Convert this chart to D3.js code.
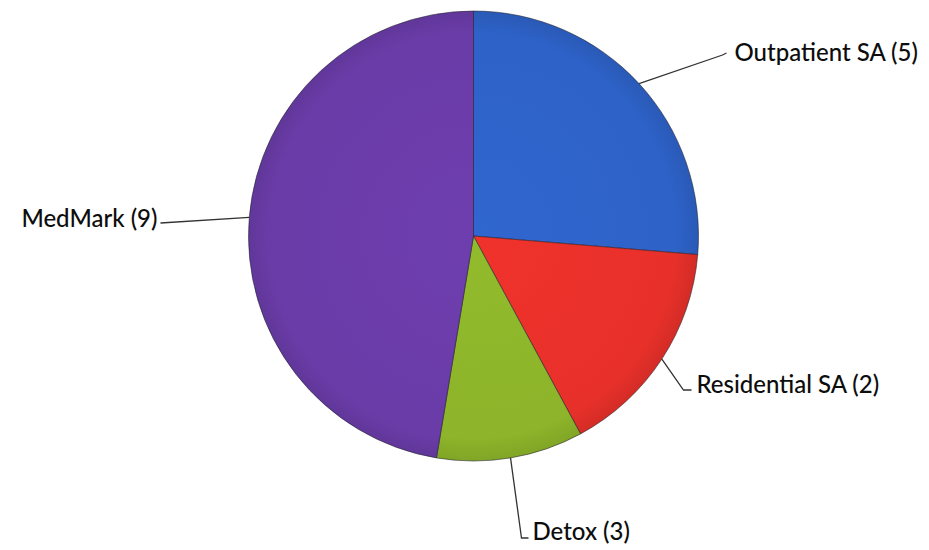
<!DOCTYPE html>
<html>
<head>
<meta charset="utf-8">
<script src="https://cdn.jsdelivr.net/npm/d3@7"></script>
<style>
  html, body { margin: 0; padding: 0; background: #ffffff; }
  svg { display: block; }
  text { font-family: Lato, "Open Sans", sans-serif; fill: #0d0d0d; }
</style>
</head>
<body>
<svg id="chart" width="929" height="550"></svg>
<script>
// ---- data ----
const categories = ["Outpatient SA", "Residential SA", "Detox", "MedMark"];
const labelCounts = [5, 2, 3, 9];          // numbers printed in the labels
const sliceValues = [5, 3, 2, 9];          // slice sizes as drawn in the picture
const colors = ["#2E62C8", "#E8302A", "#8DB42A", "#6A3CA8"];

// ---- layout ----
const svg = d3.select("#chart");
const cx = 473.5, cy = 236, R = 225;
const g = svg.append("g").attr("transform", `translate(${cx},${cy})`);

const defs = svg.append("defs");
colors.forEach((c, i) => {
  const grad = defs.append("radialGradient")
    .attr("id", "grad" + i)
    .attr("gradientUnits", "userSpaceOnUse")
    .attr("cx", 0).attr("cy", 0).attr("r", R);
  grad.append("stop").attr("offset", "0%").attr("stop-color", d3.color(c).brighter(0.1));
  grad.append("stop").attr("offset", "90%").attr("stop-color", c);
  grad.append("stop").attr("offset", "100%").attr("stop-color", d3.color(c).darker(0.25));
});

const pie = d3.pie().sort(null).value(d => d)(sliceValues);
const arc = d3.arc().innerRadius(0).outerRadius(R);

g.selectAll("path.slice")
  .data(pie)
  .join("path")
  .attr("class", "slice")
  .attr("d", arc)
  .attr("fill", (d, i) => `url(#grad${i})`)
  .attr("stroke", "rgba(30,30,40,0.55)")
  .attr("stroke-width", 1);

// label layout: elbow + end of leader, text anchor (relative to chart centre)
const labelLayout = [
  { pts: [[249, -181], [253, -183]], tx: 261, ty: -185, anchor: "start" },
  { pts: [[210, 154], [218, 154]], tx: 223, ty: 147, anchor: "start" },
  { pts: [[48, 302], [55, 302]], tx: 59, ty: 294, anchor: "start" },
  { pts: [[-313, -13]], tx: -316, ty: -19, anchor: "end" }
];

pie.forEach((d, i) => {
  const mid = (d.startAngle + d.endAngle) / 2;
  const ax = R * Math.sin(mid), ay = -R * Math.cos(mid);
  const L = labelLayout[i];
  const pts = [[ax, ay]].concat(L.pts);
  g.append("path")
    .attr("d", d3.line()(pts))
    .attr("fill", "none")
    .attr("stroke", "#333")
    .attr("stroke-width", 1.3);
  g.append("text")
    .attr("x", L.tx).attr("y", L.ty)
    .attr("text-anchor", L.anchor)
    .attr("dominant-baseline", "central")
    .attr("font-size", 24)
    .attr("font-weight", 500)
    .text(`${categories[i]} (${labelCounts[i]})`);
});
</script>
</body>
</html>
